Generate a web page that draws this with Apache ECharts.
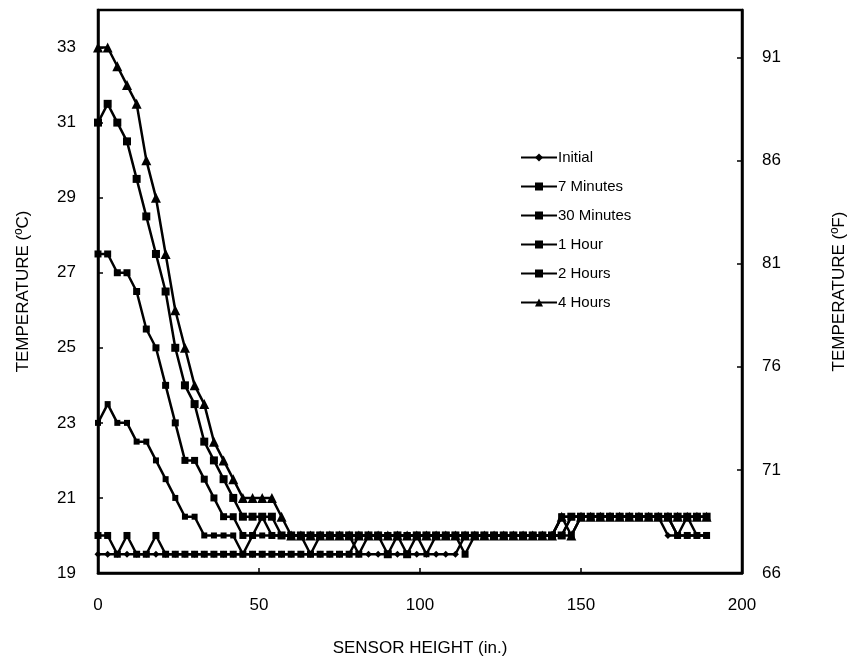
<!DOCTYPE html>
<html>
<head>
<meta charset="utf-8">
<script src="https://cdn.jsdelivr.net/npm/echarts@6/dist/echarts.min.js"></script>
<style>
html,body{margin:0;padding:0;background:#fff;}
#chart{width:853px;height:664px;}
</style>
</head>
<body>
<div id="chart"></div>
<script>
// Sensor heights (in.)
var heights = [0,3,6,9,12,15,18,21,24,27,30,33,36,39,42,45,48,51,54,57,60,63,66,69,72,75,78,81,84,87,90,93,96,99,102,105,108,111,114,117,120,123,126,129,132,135,138,141,144,147,150,153,156,159,162,165,168,171,174,177,180,183,186,189];

var initialT = [19.5,19.5,19.5,19.5,19.5,19.5,19.5,19.5,19.5,19.5,
 19.5,19.5,19.5,19.5,19.5,19.5,19.5,19.5,19.5,19.5,
 19.5,19.5,19.5,19.5,19.5,19.5,19.5,19.5,19.5,19.5,
 19.5,19.5,19.5,19.5,19.5,19.5,19.5,19.5,20,20,
 20,20,20,20,20,20,20,20,20,20.5,
 20.5,20.5,20.5,20.5,20.5,20.5,20.5,20.5,20.5,20,
 20,20,20,20];

var min7T = [20,20,19.5,20,19.5,19.5,20,19.5,19.5,19.5,
 19.5,19.5,19.5,19.5,19.5,19.5,19.5,19.5,19.5,19.5,
 19.5,19.5,19.5,19.5,19.5,19.5,19.5,20,20,20,
 20,20,20,20,20,20,20,20,19.5,20,
 20,20,20,20,20,20,20,20,20,20,
 20.5,20.5,20.5,20.5,20.5,20.5,20.5,20.5,20.5,20.5,
 20,20,20,20];

var min30T = [23,23.5,23,23,22.5,22.5,22,21.5,21,20.5,
 20.5,20,20,20,20,19.5,20,20,20,20,
 20,20,19.5,20,20,20,20,20,20,20,
 20,20,20,20,19.5,20,20,20,20,20,
 20,20,20,20,20,20,20,20,20.5,20.5,
 20.5,20.5,20.5,20.5,20.5,20.5,20.5,20.5,20.5,20.5,
 20,20.5,20,20];

var hour1T = [27.5,27.5,27,27,26.5,25.5,25,24,23,22,
 22,21.5,21,20.5,20.5,20,20,20.5,20,20,
 20,20,20,20,20,20,20,19.5,20,20,
 20,20,20,20,20,20,20,20,20,20,
 20,20,20,20,20,20,20,20,20.5,20.5,
 20.5,20.5,20.5,20.5,20.5,20.5,20.5,20.5,20.5,20.5,
 20.5,20.5,20.5,20.5];

var hour2T = [31,31.5,31,30.5,29.5,28.5,27.5,26.5,25,24,
 23.5,22.5,22,21.5,21,20.5,20.5,20.5,20.5,20,
 20,20,20,20,20,20,20,20,20,20,
 19.5,20,19.5,20,20,20,20,20,20,20,
 20,20,20,20,20,20,20,20,20,20.5,
 20.5,20.5,20.5,20.5,20.5,20.5,20.5,20.5,20.5,20.5,
 20.5,20.5,20.5,20.5];

var hour4T = [33,33,32.5,32,31.5,30,29,27.5,26,25,
 24,23.5,22.5,22,21.5,21,21,21,21,20.5,
 20,20,20,20,20,20,20,20,20,20,
 20,20,20,20,20,20,20,20,20,20,
 20,20,20,20,20,20,20,20,20.5,20,
 20.5,20.5,20.5,20.5,20.5,20.5,20.5,20.5,20.5,20.5,
 20.5,20.5,20.5,20.5];

var seriesNames = ['Initial','7 Minutes','30 Minutes','1 Hour','2 Hours','4 Hours'];
var seriesData = [initialT, min7T, min30T, hour1T, hour2T, hour4T];
var symbols = ['diamond','rect','rect','rect','rect','triangle'];
var symbolSizes = [7,7,6,7,8,10];

var FONT = '"Liberation Sans", Arial, sans-serif';

function pairs(vals){
  return heights.map(function(h,i){ return [h, vals[i]]; });
}

var series = seriesNames.map(function(n,k){
  return {
    name: n,
    type: 'line',
    yAxisIndex: 0,
    data: pairs(seriesData[k]),
    symbol: symbols[k],
    symbolSize: symbolSizes[k],
    showAllSymbol: true,
    animation: false,
    lineStyle: {color:'#000', width: 2.5},
    itemStyle: {color:'#000', borderWidth:0},
    z: 2 + k
  };
});

var chart = echarts.init(document.getElementById('chart'), null, {renderer:'canvas'});
chart.setOption({
  backgroundColor: '#fff',
  animation: false,
  grid: {left: 98, right: 111, top: 10, bottom: 91, outerBoundsMode: 'none', containLabel: false, show: true, borderColor:'#000', borderWidth: 2.5, backgroundColor:'transparent'},
  legend: {
    orient: 'vertical',
    left: 515, top: 145,
    itemGap: 14,
    itemWidth: 36, itemHeight: 10,
    textStyle: {fontFamily: FONT, fontSize: 15, color:'#000', padding:[0,0,0,-4]},
    data: seriesNames
  },
  xAxis: {
    type: 'value', min: 0, max: 200, interval: 50,
    name: 'SENSOR HEIGHT (in.)', nameLocation: 'middle', nameGap: 67,
    nameTextStyle: {fontFamily: FONT, fontSize: 17, color:'#000'},
    axisLine: {show:true, onZero:false, lineStyle:{color:'#000', width:2.5}},
    axisTick: {show:true, inside:true, length:5, lineStyle:{color:'#000', width:1.5}},
    axisLabel: {fontFamily: FONT, fontSize: 17, color:'#000', margin: 24},
    splitLine: {show:false}
  },
  yAxis: [{
    type: 'value', min: 19, max: 34, interval: 2, position:'left',
    name: 'TEMPERATURE (ºC)', nameLocation: 'middle', nameGap: 66, nameRotate: 90,
    nameTextStyle: {fontFamily: FONT, fontSize: 17, color:'#000'},
    axisLine: {show:true, onZero:false, lineStyle:{color:'#000', width:2.5}},
    axisTick: {show:true, inside:true, length:5, lineStyle:{color:'#000', width:1.5}},
    axisLabel: {fontFamily: FONT, fontSize: 17, color:'#000', margin: 22, showMaxLabel:false},
    splitLine: {show:false}
  },{
    type: 'value', min: 66, max: 93.3, interval: 5, position:'right',
    name: 'TEMPERATURE (ºF)', nameLocation: 'middle', nameGap: 89, nameRotate: 90,
    nameTextStyle: {fontFamily: FONT, fontSize: 17, color:'#000'},
    axisLine: {show:true, onZero:false, lineStyle:{color:'#000', width:2.5}},
    axisTick: {show:true, inside:true, length:5, lineStyle:{color:'#000', width:1.5}},
    axisLabel: {fontFamily: FONT, fontSize: 17, color:'#000', margin: 20, showMaxLabel:false},
    splitLine: {show:false}
  }],
  series: series
});
</script>
</body>
</html>
